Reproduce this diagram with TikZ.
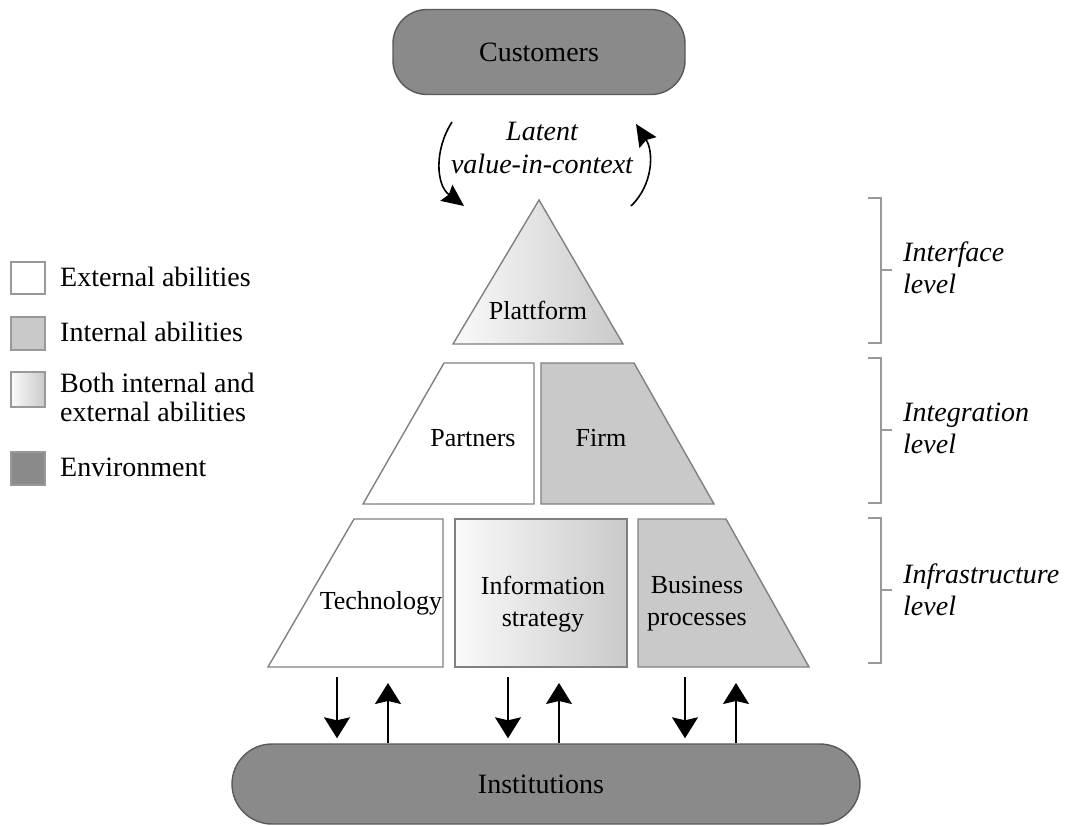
\documentclass[tikz,border=0pt]{standalone}
\usepackage{fontspec}
\setmainfont{Liberation Serif}
\usetikzlibrary{arrows.meta}
\begin{document}
\begin{tikzpicture}[x=1pt,y=-1pt,
  every node/.style={font=\fontsize{28}{32}\selectfont, inner sep=0pt},
  small/.style={font=\fontsize{26}{32}\selectfont},
  lbl/.style={align=center},
  edge/.style={draw=black!50, line width=1.4pt},
  ext/.style={edge, fill=white},
  int/.style={edge, fill=gray!42},
  both/.style={edge, left color=gray!4, right color=gray!42},
  env/.style={draw=black!65, line width=1.4pt, fill=gray!92},
  arr/.style={line width=1.5pt, -{Stealth[length=21pt,width=26pt,inset=3pt]}},
  carr/.style={line width=1.6pt, -{Stealth[length=22pt,width=20pt,inset=3pt]}},
  brk/.style={draw=black!40, line width=1.2pt},
  lvl/.style={font=\fontsize{28}{32}\selectfont\itshape, align=left, anchor=west}
]
\useasboundingbox (0,0) rectangle (1068,825);

% environment
\node[env, rounded corners=34pt, minimum width=292pt, minimum height=85pt] (cust) at (539,52) {Customers};
\node[env, rounded corners=40pt, minimum width=628pt, minimum height=80pt] (inst) at (546,784) {};
\node (insttext) at (541,784) {Institutions};

% latent value
\node[font=\fontsize{28}{33}\selectfont\itshape, align=center] (lat) at (542,148) {Latent\\value-in-context};
\coordinate (la) at (452,122);
\coordinate (lb) at (464,206);
\coordinate (ra) at (631,206);
\coordinate (rb) at (636,124);
\draw[carr] (la) .. controls (434,150) and (436,185) .. (lb);
\draw[carr] (ra) .. controls (653,185) and (654,152) .. (rb);

% pyramid
\draw[both] (539,200) -- (623,344) -- (453,344) -- cycle;
\node[small] (plat) at (538,310) {Plattform};

\draw[ext] (444,363) -- (534,363) -- (534,504) -- (363,504) -- cycle;
\node[small] (partners) at (473,438) {Partners};
\draw[int] (541,363) -- (634,363) -- (714,504) -- (541,504) -- cycle;
\node[small] (firm) at (601,438) {Firm};

\draw[ext] (354,519) -- (443,519) -- (443,667) -- (268,667) -- cycle;
\node[small] (tech) at (381,603) {Technology};
\draw[both] (455,519) rectangle (627,667);
\node[small, lbl] (info) at (543,604) {Information\\strategy};
\draw[int] (638,519) -- (726,519) -- (809,667) -- (638,667) -- cycle;
\node[small, lbl] (bus) at (697,604) {Business\\processes};

% arrows to/from institutions
\coordinate (d1) at (337,677);
\coordinate (u1) at (388,683);
\coordinate (d2) at (508,677);
\coordinate (u2) at (559,683);
\coordinate (d3) at (685,677);
\coordinate (u3) at (736,683);
\foreach \d in {d1,d2,d3}{\draw[arr, shorten >=5pt] (\d) -- (\d |- inst.north);}
\foreach \u in {u1,u2,u3}{\draw[arr] (\u |- inst.north) -- (\u);}

% level brackets
\draw[brk] (868,198) -- (881,198) -- (881,343) -- (868,343);
\draw[brk] (881,270) -- (892,270);
\draw[brk] (868,358) -- (881,358) -- (881,503) -- (868,503);
\draw[brk] (881,430) -- (892,430);
\draw[brk] (868,518) -- (881,518) -- (881,663) -- (868,663);
\draw[brk] (881,590) -- (892,590);
\node[lvl] (l1) at (903,268) {Interface\\level};
\node[lvl] (l2) at (903,428) {Integration\\level};
\node[lvl] (l3) at (903,590) {Infrastructure\\level};

% legend
\draw[ext, draw=black!40] (11,262) rectangle (45,294);
\node[anchor=west] (lg1) at (60,277) {External abilities};
\draw[int, draw=black!40] (11,317) rectangle (45,350);
\node[anchor=west] (lg2) at (60,332) {Internal abilities};
\draw[both, draw=black!40] (11,372) rectangle (45,407);
\node[anchor=west, align=left, font=\fontsize{28}{29}\selectfont] (lg3) at (60,397) {Both internal and\\external abilities};
\draw[env, draw=black!40] (11,452) rectangle (45,485);
\node[anchor=west] (lg4) at (60,467) {Environment};
\end{tikzpicture}
\end{document}
